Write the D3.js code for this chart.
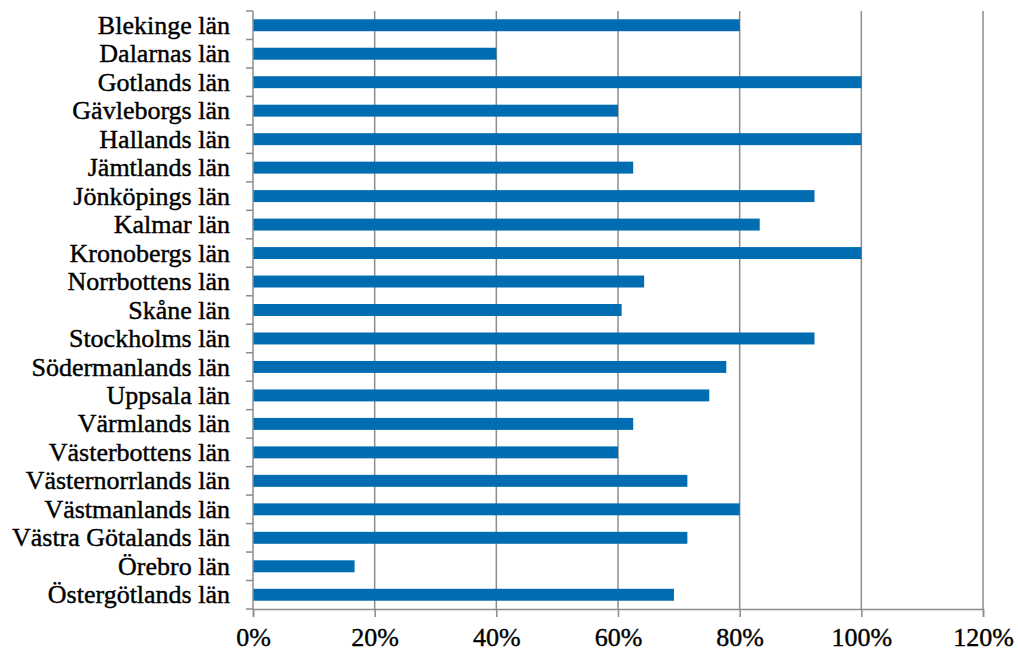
<!DOCTYPE html>
<html><head><meta charset="utf-8">
<script src="https://cdn.jsdelivr.net/npm/d3@7"></script>
<style>html,body{margin:0;padding:0;background:#fff;}</style>
</head><body>
<svg id="chart" width="1018" height="654"></svg>
<script>
const categories = ["Blekinge län","Dalarnas län","Gotlands län","Gävleborgs län","Hallands län","Jämtlands län","Jönköpings län","Kalmar län","Kronobergs län","Norrbottens län","Skåne län","Stockholms län","Södermanlands län","Uppsala län","Värmlands län","Västerbottens län","Västernorrlands län","Västmanlands län","Västra Götalands län","Örebro län","Östergötlands län"];
const values = [0.80,0.40,1.00,0.60,1.00,0.625,0.923,0.833,1.00,0.643,0.606,0.923,0.778,0.75,0.625,0.60,0.714,0.80,0.714,0.167,0.692];
const xTicks = [0,0.2,0.4,0.6,0.8,1.0,1.2];

(function(){
const svg = d3.select("#chart");
const mLeft = 253, mRight = 983, mTop = 11, mBottom = 609;
const font = "'Liberation Serif', 'Times New Roman', serif";

const x = d3.scaleLinear().domain([0,1.2]).range([mLeft,mRight]);
const y = d3.scaleBand().domain(categories).range([mTop,mBottom]).paddingInner(0.58).paddingOuter(0.29);

// gridlines
svg.append("g").selectAll("line").data(xTicks.slice(1)).join("line")
  .attr("x1", d=>x(d)).attr("x2", d=>x(d)).attr("y1", mTop).attr("y2", mBottom)
  .attr("stroke", "#8c8c8c").attr("stroke-width", 1.5);

// bars
svg.append("g").selectAll("rect").data(categories).join("rect")
  .attr("x", x(0)).attr("y", d=>y(d))
  .attr("width", (d,i)=>x(values[i])-x(0)).attr("height", y.bandwidth())
  .attr("fill", "#006db3");

// x axis
const xAxis = d3.axisBottom(x).tickValues(xTicks).tickFormat(d3.format(".0%")).tickSize(8).tickPadding(11);
const gx = svg.append("g").attr("transform", `translate(0,${mBottom})`).call(xAxis);
gx.select(".domain").attr("stroke","#8c8c8c").attr("stroke-width",1.5);
gx.selectAll(".tick line").attr("stroke","#8c8c8c").attr("stroke-width",1.5);
gx.selectAll("text").attr("font-family", font).attr("font-size", 26).attr("fill","#000")
  .attr("stroke","#000").attr("stroke-width",0.4);

// y axis: category boundaries ticks
const gy = svg.append("g");
gy.append("line").attr("x1", mLeft).attr("x2", mLeft).attr("y1", mTop).attr("y2", mBottom)
  .attr("stroke","#8c8c8c").attr("stroke-width",1.5);
const bounds = categories.map(c => y(c) - y.step()*y.paddingInner()/2);
bounds.push(mBottom);
gy.selectAll("line.tk").data(bounds).join("line").attr("class","tk")
  .attr("x1", mLeft-7).attr("x2", mLeft).attr("y1", d=>d).attr("y2", d=>d)
  .attr("stroke","#8c8c8c").attr("stroke-width",1.5);
gy.selectAll("text").data(categories).join("text")
  .attr("x", 230).attr("y", d=>y(d)+y.bandwidth()/2).attr("dy","0.33em")
  .attr("text-anchor","end").attr("font-family", font).attr("font-size", 26).attr("fill","#000")
  .attr("stroke","#000").attr("stroke-width",0.4)
  .text(d=>d);
})();
</script>
</body></html>
